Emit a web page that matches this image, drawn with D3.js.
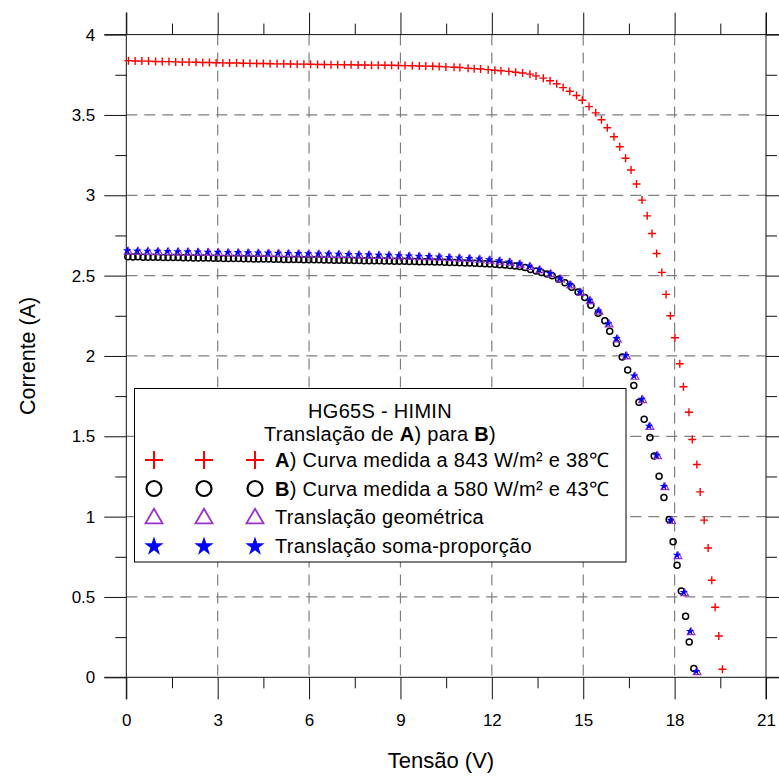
<!DOCTYPE html>
<html>
<head>
<meta charset="utf-8">
<script src="https://cdn.jsdelivr.net/npm/d3@7"></script>
<style>
  html, body { margin: 0; padding: 0; background: #fff; }
  svg { display: block; font-family: "Liberation Sans", Arial, sans-serif; }
</style>
</head>
<body>
<svg id="chart" width="779" height="776"></svg>
<script>
// ---- Data: I-V curves of the HG65S module (voltage V, current A) ----

// A) measured at 843 W/m² and 38 °C
const curveA = [
  [0.07,3.838],[0.29,3.836],[0.51,3.835],[0.73,3.835],[0.96,3.833],[1.18,3.832],[1.40,3.832],[1.62,3.830],
  [1.84,3.829],[2.06,3.829],[2.29,3.828],[2.51,3.826],[2.73,3.826],[2.95,3.825],[3.17,3.824],[3.39,3.823],
  [3.62,3.823],[3.84,3.822],[4.06,3.821],[4.28,3.820],[4.50,3.820],[4.72,3.819],[4.95,3.818],[5.17,3.818],
  [5.39,3.817],[5.61,3.816],[5.83,3.816],[6.05,3.815],[6.28,3.814],[6.50,3.814],[6.72,3.813],[6.94,3.813],
  [7.16,3.812],[7.38,3.812],[7.61,3.811],[7.83,3.811],[8.05,3.810],[8.27,3.810],[8.49,3.809],[8.71,3.809],
  [8.93,3.808],[9.15,3.807],[9.39,3.806],[9.62,3.805],[9.83,3.804],[10.06,3.803],[10.27,3.801],[10.49,3.799],
  [10.76,3.797],[10.95,3.795],[11.22,3.791],[11.42,3.788],[11.63,3.786],[11.88,3.782],[12.10,3.778],[12.30,3.775],
  [12.56,3.771],[12.78,3.766],[13.01,3.761],[13.25,3.754],[13.45,3.743],[13.69,3.729],[13.91,3.713],[14.13,3.694],
  [14.34,3.670],[14.56,3.647],[14.78,3.621],[14.97,3.591],[15.19,3.552],[15.41,3.513],[15.60,3.470],[15.79,3.420],
  [16.01,3.364],[16.20,3.302],[16.39,3.230],[16.57,3.157],[16.75,3.070],[16.93,2.970],[17.10,2.872],[17.26,2.762],
  [17.41,2.638],[17.58,2.520],[17.72,2.383],[17.86,2.250],[18.01,2.113],[18.17,1.951],[18.29,1.808],[18.47,1.650],
  [18.58,1.480],[18.73,1.324],[18.84,1.154],[18.97,0.978],[19.10,0.805],[19.22,0.604],[19.33,0.436],[19.45,0.257],
  [19.57,0.050]
];

// B) measured at 580 W/m² and 43 °C
const curveB = [
  [0.05,2.617],[0.22,2.616],[0.38,2.617],[0.55,2.615],[0.71,2.615],[0.88,2.614],[1.04,2.614],[1.21,2.613],
  [1.37,2.613],[1.54,2.612],[1.70,2.612],[1.87,2.611],[2.03,2.611],[2.20,2.610],[2.36,2.610],[2.53,2.609],
  [2.69,2.609],[2.86,2.608],[3.02,2.608],[3.19,2.607],[3.35,2.607],[3.52,2.606],[3.68,2.606],[3.85,2.605],
  [4.01,2.605],[4.18,2.604],[4.34,2.604],[4.51,2.603],[4.67,2.603],[4.84,2.602],[5.00,2.602],[5.17,2.601],
  [5.33,2.601],[5.50,2.600],[5.66,2.600],[5.83,2.599],[5.99,2.599],[6.16,2.598],[6.32,2.598],[6.49,2.597],
  [6.65,2.597],[6.82,2.596],[6.98,2.596],[7.15,2.595],[7.31,2.595],[7.48,2.594],[7.64,2.594],[7.81,2.593],
  [7.97,2.593],[8.14,2.592],[8.30,2.592],[8.47,2.591],[8.63,2.591],[8.80,2.590],[8.96,2.590],[9.13,2.589],
  [9.29,2.588],[9.46,2.588],[9.62,2.587],[9.79,2.586],[9.95,2.586],[10.12,2.585],[10.28,2.584],[10.45,2.583],
  [10.61,2.582],[10.78,2.581],[10.94,2.580],[11.11,2.579],[11.27,2.578],[11.44,2.577],[11.60,2.575],[11.77,2.574],
  [11.93,2.572],[12.10,2.570],[12.26,2.568],[12.43,2.566],[12.59,2.563],[12.76,2.560],[12.92,2.556],[13.09,2.551],
  [13.27,2.538],[13.45,2.529],[13.63,2.520],[13.81,2.510],[13.98,2.499],[14.19,2.478],[14.40,2.455],[14.62,2.427],
  [14.83,2.398],[15.05,2.364],[15.25,2.316],[15.49,2.265],[15.71,2.219],[15.87,2.154],[16.09,2.078],[16.28,1.994],
  [16.46,1.912],[16.66,1.816],[16.83,1.712],[17.00,1.606],[17.19,1.493],[17.33,1.378],[17.49,1.252],[17.65,1.119],
  [17.82,0.982],[17.95,0.843],[18.08,0.697],[18.22,0.537],[18.36,0.380],[18.48,0.220],[18.63,0.054]
];

// Geometric translation of A) to the conditions of B)
const transGeo = [
  [0.06,2.648],[0.39,2.647],[0.72,2.646],[1.05,2.645],[1.38,2.644],[1.71,2.643],[2.04,2.642],[2.37,2.641],
  [2.70,2.640],[3.03,2.639],[3.36,2.638],[3.69,2.637],[4.02,2.636],[4.35,2.635],[4.68,2.634],[5.01,2.633],
  [5.34,2.632],[5.67,2.631],[6.00,2.630],[6.33,2.629],[6.66,2.628],[6.99,2.627],[7.32,2.625],[7.65,2.624],
  [7.98,2.623],[8.31,2.621],[8.64,2.620],[8.97,2.618],[9.30,2.616],[9.63,2.614],[9.96,2.612],[10.29,2.610],
  [10.62,2.607],[10.95,2.604],[11.28,2.601],[11.61,2.597],[11.94,2.592],[12.27,2.586],[12.60,2.579],[12.93,2.567],
  [13.26,2.552],[13.58,2.532],[13.94,2.507],[14.26,2.475],[14.59,2.438],[14.92,2.392],[15.23,2.340],[15.52,2.274],
  [15.85,2.195],[16.12,2.102],[16.42,1.996],[16.70,1.869],[16.95,1.724],[17.19,1.557],[17.44,1.375],[17.68,1.182],
  [17.90,0.971],[18.11,0.753],[18.33,0.522],[18.54,0.279],[18.74,0.030]
];

// Sum-proportion translation of A) to the conditions of B)
const transSoma = [
  [0.03,2.655],[0.36,2.654],[0.69,2.653],[1.02,2.652],[1.35,2.651],[1.68,2.650],[2.01,2.649],[2.34,2.648],
  [2.67,2.647],[3.00,2.646],[3.33,2.645],[3.66,2.644],[3.99,2.643],[4.32,2.642],[4.65,2.641],[4.98,2.640],
  [5.31,2.639],[5.64,2.638],[5.97,2.637],[6.30,2.636],[6.63,2.635],[6.96,2.634],[7.29,2.632],[7.62,2.631],
  [7.95,2.630],[8.28,2.628],[8.61,2.627],[8.94,2.625],[9.27,2.623],[9.60,2.621],[9.93,2.619],[10.26,2.617],
  [10.59,2.614],[10.92,2.611],[11.25,2.608],[11.58,2.604],[11.91,2.599],[12.24,2.593],[12.57,2.586],[12.90,2.574],
  [13.23,2.559],[13.55,2.539],[13.91,2.514],[14.23,2.482],[14.56,2.445],[14.89,2.399],[15.20,2.347],[15.49,2.281],
  [15.82,2.202],[16.09,2.109],[16.39,2.003],[16.67,1.876],[16.92,1.731],[17.16,1.564],[17.41,1.382],[17.65,1.189],
  [17.87,0.978],[18.08,0.760],[18.30,0.529],[18.51,0.286],[18.71,0.037]
];

// Axis ticks and labels
const voltTicks = [0, 3, 6, 9, 12, 15, 18, 21];
const voltMinorTicks = [1.5, 4.5, 7.5, 10.5, 13.5, 16.5, 19.5];
const currTicks = [0, 0.5, 1, 1.5, 2, 2.5, 3, 3.5, 4];
const currTickLabels = ["0", "0.5", "1", "1.5", "2", "2.5", "3", "3.5", "4"];
const currMinorTicks = [0.25, 0.75, 1.25, 1.75, 2.25, 2.75, 3.25, 3.75];

const xTitle = "Tensão (V)";
const yTitle = "Corrente (A)";
const legendTitle = "HG65S - HIMIN";
const legendRows = [
  { key: "A", bold: "A", text: ") Curva medida a 843 W/m² e 38℃" },
  { key: "B", bold: "B", text: ") Curva medida a 580 W/m² e 43℃" },
  { key: "G", bold: "",  text: "Translação geométrica" },
  { key: "S", bold: "",  text: "Translação soma-proporção" }
];

// ---- Layout ----
const svg = d3.select("#chart");
const plotL = 126.3, plotR = 766, plotT = 34.6, plotB = 677.3;
const ext = 22;        // axis lines run past the plot corners by this much
const majorLen = 22, minorLen = 11;

const x = d3.scaleLinear().domain([0, 21]).range([plotL, plotR]);
const y = d3.scaleLinear().domain([0, 4]).range([plotB, plotT]);

const gridColor = "#7f7f7f";
const axisColor = "#111";

// Dashed grid
const grid = svg.append("g").attr("stroke", gridColor).attr("stroke-width", 1.2)
  .attr("stroke-dasharray", "11,7").attr("fill", "none");
grid.selectAll("line.gx").data(voltTicks.slice(1, -1)).join("line")
  .attr("x1", d => x(d)).attr("x2", d => x(d)).attr("y1", plotT).attr("y2", plotB);
grid.selectAll("line.gy").data(currTicks.slice(1, -1)).join("line")
  .attr("y1", d => y(d)).attr("y2", d => y(d)).attr("x1", plotL).attr("x2", plotR);

// Axes built with d3-axis, domain paths replaced by extended frame lines
function styleAxis(g) {
  g.select(".domain").remove();
  g.selectAll(".tick line").attr("stroke", axisColor).attr("stroke-width", 1);
  g.selectAll(".tick text").attr("fill", "#000").attr("font-size", 17)
    .attr("font-family", "'Liberation Sans', Arial, sans-serif");
}

svg.append("g").attr("transform", `translate(0,${plotB})`)
  .call(d3.axisBottom(x).tickValues(voltTicks).tickSize(majorLen).tickPadding(15).tickFormat(d3.format("d")))
  .call(styleAxis);
svg.append("g").attr("transform", `translate(0,${plotB})`)
  .call(d3.axisBottom(x).tickValues(voltMinorTicks).tickSize(minorLen).tickFormat(""))
  .call(styleAxis);
svg.append("g").attr("transform", `translate(0,${plotT})`)
  .call(d3.axisTop(x).tickValues(voltTicks).tickSize(majorLen).tickFormat(""))
  .call(styleAxis);
svg.append("g").attr("transform", `translate(0,${plotT})`)
  .call(d3.axisTop(x).tickValues(voltMinorTicks).tickSize(minorLen).tickFormat(""))
  .call(styleAxis);

svg.append("g").attr("transform", `translate(${plotL},0)`)
  .call(d3.axisLeft(y).tickValues(currTicks).tickSize(majorLen).tickPadding(9)
    .tickFormat((d, i) => currTickLabels[i]))
  .call(styleAxis);
svg.append("g").attr("transform", `translate(${plotL},0)`)
  .call(d3.axisLeft(y).tickValues(currMinorTicks).tickSize(minorLen).tickFormat(""))
  .call(styleAxis);
svg.append("g").attr("transform", `translate(${plotR},0)`)
  .call(d3.axisRight(y).tickValues(currTicks).tickSize(majorLen).tickFormat(""))
  .call(styleAxis);
svg.append("g").attr("transform", `translate(${plotR},0)`)
  .call(d3.axisRight(y).tickValues(currMinorTicks).tickSize(minorLen).tickFormat(""))
  .call(styleAxis);

// Frame lines extending beyond the corners
const frame = svg.append("g").attr("stroke", axisColor).attr("stroke-width", 1);
frame.append("line").attr("x1", plotL - ext).attr("x2", plotR + ext).attr("y1", plotT).attr("y2", plotT);
frame.append("line").attr("x1", plotL - ext).attr("x2", plotR + ext).attr("y1", plotB).attr("y2", plotB);
frame.append("line").attr("x1", plotL).attr("x2", plotL).attr("y1", plotT - ext).attr("y2", plotB + ext);
frame.append("line").attr("x1", plotR).attr("x2", plotR).attr("y1", plotT - ext).attr("y2", plotB + ext);

// Axis titles
svg.append("text").attr("x", 441).attr("y", 768).attr("text-anchor", "middle")
  .attr("font-size", 22).text(xTitle);
svg.append("text").attr("transform", `translate(35,${(plotT + plotB) / 2}) rotate(-90)`)
  .attr("text-anchor", "middle").attr("font-size", 21.5).text(yTitle);

// ---- Marker shapes ----
const colors = { A: "#ff0000", B: "#000000", G: "#9933cc", S: "#0000ff" };

function plusPath(h) {
  return `M${-h},0H${h}M0,${-h}V${h}`;
}
function drawMarker(g, key, big) {
  if (key === "A") {
    g.append("path").attr("d", plusPath(big ? 9 : 4))
      .attr("stroke", colors.A).attr("stroke-width", big ? 2 : 1.4).attr("fill", "none");
  } else if (key === "B") {
    g.append("circle").attr("r", big ? 7.5 : 3)
      .attr("stroke", colors.B).attr("stroke-width", big ? 2.2 : 1.5).attr("fill", "none");
  } else if (key === "G") {
    g.append("path").attr("d", d3.symbol(d3.symbolTriangle, big ? 125 : 26)())
      .attr("transform", big ? "translate(0,1.5)" : null)
      .attr("stroke", colors.G).attr("stroke-width", big ? 1.8 : 1.2).attr("fill", "none");
  } else {
    g.append("path").attr("d", d3.symbol(d3.symbolStar, big ? 115 : 22)())
      .attr("transform", big ? "translate(0,1)" : null)
      .attr("fill", colors.S).attr("stroke", "none");
  }
}

function drawSeries(data, key) {
  const g = svg.append("g");
  g.selectAll("g").data(data).join("g")
    .attr("transform", d => `translate(${x(d[0])},${y(d[1])})`)
    .each(function () { drawMarker(d3.select(this), key, false); });
}

drawSeries(curveA, "A");
drawSeries(curveB, "B");
drawSeries(transGeo, "G");
drawSeries(transSoma, "S");

// ---- Legend ----
const lg = svg.append("g");
lg.append("rect").attr("x", 134.5).attr("y", 388.5).attr("width", 491.5).attr("height", 173.5)
  .attr("fill", "#fff").attr("stroke", "#000").attr("stroke-width", 1);

const legendFont = 20;
lg.append("text").attr("x", 380).attr("y", 417.5).attr("text-anchor", "middle")
  .attr("font-size", legendFont).attr("letter-spacing", 0.3).text(legendTitle);
const sub = lg.append("text").attr("x", 380).attr("y", 441).attr("text-anchor", "middle")
  .attr("font-size", legendFont).attr("letter-spacing", 0.3);
sub.append("tspan").text("Translação de ");
sub.append("tspan").attr("font-weight", "bold").text("A");
sub.append("tspan").text(") para ");
sub.append("tspan").attr("font-weight", "bold").text("B");
sub.append("tspan").text(")");

const rowY = [460, 488.5, 517, 545.5];
const markerX = [154, 204, 255];
legendRows.forEach((row, i) => {
  markerX.forEach(mx => {
    const g = lg.append("g").attr("transform", `translate(${mx},${rowY[i]})`);
    drawMarker(g, row.key, true);
  });
  const t = lg.append("text").attr("x", 275).attr("y", rowY[i] + 7)
    .attr("font-size", legendFont).attr("letter-spacing", 0.3);
  if (row.bold) t.append("tspan").attr("font-weight", "bold").text(row.bold);
  t.append("tspan").text(row.text);
});
</script>
</body>
</html>
